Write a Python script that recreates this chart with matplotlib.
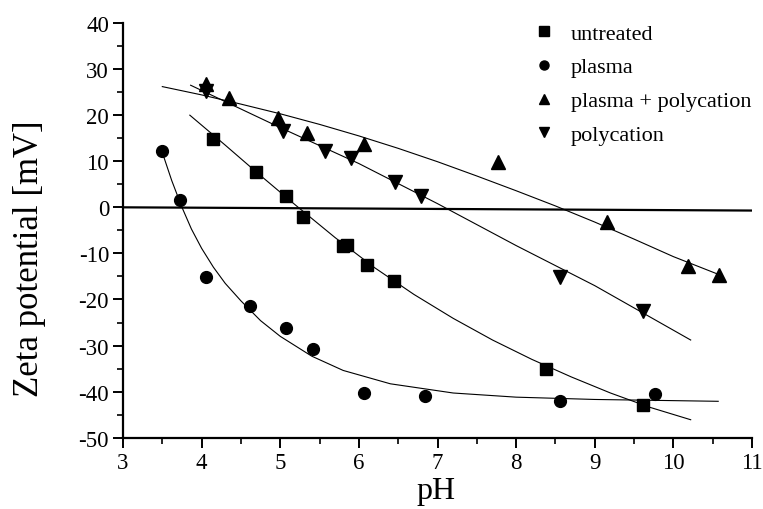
import numpy as np
import matplotlib
matplotlib.use("Agg")
import matplotlib.pyplot as plt
from matplotlib.lines import Line2D

plt.rcParams["font.family"] = ["Liberation Serif", "DejaVu Serif"]
plt.rcParams["axes.unicode_minus"] = False

# measured points (pH, zeta potential in mV)
untreated_ph = [4.15, 4.69, 5.07, 5.29, 5.80, 5.85, 6.10, 6.45, 8.38, 9.61]
untreated_zeta = [14.8, 7.6, 2.4, -2.0, -8.5, -8.2, -12.6, -16.0, -35.1, -42.9]

plasma_ph = [3.50, 3.73, 4.06, 4.61, 5.07, 5.42, 6.07, 6.84, 8.56, 9.76]
plasma_zeta = [12.2, 1.6, -15.1, -21.5, -26.2, -30.7, -40.2, -40.9, -42.0, -40.6]

pp_ph = [4.05, 4.35, 4.97, 5.34, 6.06, 7.77, 9.15, 10.18, 10.58]
pp_zeta = [26.7, 23.7, 19.3, 16.1, 13.7, 9.9, -3.1, -12.7, -14.6]

poly_ph = [4.05, 5.03, 5.57, 5.90, 6.46, 6.79, 8.56, 9.61]
poly_zeta = [25.2, 16.6, 12.3, 10.6, 5.4, 2.5, -15.2, -22.4]

# fitted curves
untreated_fit_ph = [3.85, 4.3, 4.7, 5.2, 5.7, 6.2, 6.7, 7.2, 7.7, 8.2, 8.7, 9.2, 9.7, 10.22]
untreated_fit_zeta = [20.0, 13.5, 7.6, 0.4, -6.6, -13.1, -18.9, -24.1, -28.8, -33.0, -36.8, -40.3, -43.4, -46.1]

plasma_fit_ph = [3.50, 3.62, 3.75, 3.87, 4.0, 4.15, 4.3, 4.5, 4.75, 5.0, 5.4, 5.8, 6.4, 7.2, 8.0, 9.0, 10.57]
plasma_fit_zeta = [11.9, 5.8, 0.0, -4.7, -8.9, -13.0, -16.5, -20.3, -24.6, -28.0, -32.3, -35.4, -38.3, -40.3, -41.2, -41.7, -42.1]

pp_fit_ph = [3.5, 4.0, 4.5, 5.0, 5.5, 6.0, 6.5, 7.0, 7.5, 8.0, 8.5, 9.0, 9.5, 10.0, 10.58]
pp_fit_zeta = [26.2, 24.4, 22.4, 20.3, 18.0, 15.5, 12.8, 9.9, 6.8, 3.6, 0.3, -3.2, -6.9, -10.7, -14.6]

poly_fit_ph = [3.86, 5.0, 6.0, 7.0, 8.0, 9.0, 10.22]
poly_fit_zeta = [26.5, 17.3, 9.5, 0.8, -8.3, -17.0, -28.8]

zero_ph = [3.0, 11.0]
zero_zeta = [0.0, -0.7]

labels = ["untreated", "plasma", "plasma + polycation", "polycation"]

fig = plt.figure(figsize=(7.63, 5.10), dpi=100)
ax = fig.add_axes([0.1612, 0.1398, 0.8244, 0.8131])

lw = 0.8
ax.plot(zero_ph, zero_zeta, color="black", lw=1.6)
ax.plot(untreated_fit_ph, untreated_fit_zeta, color="black", lw=lw)
ax.plot(plasma_fit_ph, plasma_fit_zeta, color="black", lw=lw)
ax.plot(pp_fit_ph, pp_fit_zeta, color="black", lw=lw)
ax.plot(poly_fit_ph, poly_fit_zeta, color="black", lw=lw)

ax.plot(untreated_ph, untreated_zeta, "s", color="black", ms=8.5, ls="none")
ax.plot(plasma_ph, plasma_zeta, "o", color="black", ms=8.5, ls="none")
ax.plot(pp_ph, pp_zeta, "^", color="black", ms=9.5, ls="none")
ax.plot(poly_ph, poly_zeta, "v", color="black", ms=9.5, ls="none")

ax.set_xlim(3, 11)
ax.set_ylim(-50, 40)
ax.set_xticks(np.arange(3, 12, 1))
ax.set_yticks(np.arange(-50, 41, 10))
ax.set_xticks(np.arange(3.5, 11, 1), minor=True)
ax.set_yticks(np.arange(-45, 40, 10), minor=True)

for s in ["top", "right"]:
    ax.spines[s].set_visible(False)
for s in ["left", "bottom"]:
    ax.spines[s].set_linewidth(1.6)

ax.tick_params(which="major", direction="out", length=7, width=1.4, labelsize=16.5, pad=3)
ax.tick_params(which="minor", direction="out", length=4, width=1.2)

ax.set_xlabel("pH", fontsize=23)
ax.xaxis.set_label_coords(0.498, -0.093)
ax.set_ylabel("Zeta potential [mV]", fontsize=25)
ax.yaxis.set_label_coords(-0.123, 0.433)

handles = [
    Line2D([], [], marker="s", color="black", ls="none", ms=6.5),
    Line2D([], [], marker="o", color="black", ls="none", ms=6.5),
    Line2D([], [], marker="^", color="black", ls="none", ms=7),
    Line2D([], [], marker="v", color="black", ls="none", ms=7),
]
ax.legend(handles, labels, loc="upper left", bbox_to_anchor=(534 / 763, 1 - 24 / 510),
          bbox_transform=fig.transFigure, frameon=False, fontsize=16,
          handlelength=0.9, handletextpad=0.75, labelspacing=0.6, borderpad=0,
          borderaxespad=0)

fig.savefig("out.png", dpi=100)
